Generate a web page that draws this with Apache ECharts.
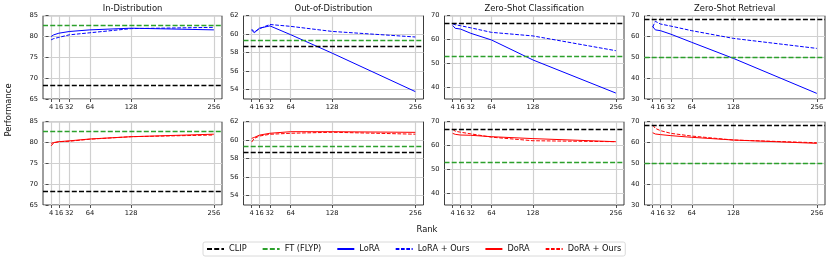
<!DOCTYPE html>
<html><head><meta charset="utf-8">
<script src="https://cdn.jsdelivr.net/npm/echarts@6/dist/echarts.min.js"></script>
<style>html,body{margin:0;padding:0;background:#fff}#c{width:830px;height:264px}</style>
</head><body><div id="c"></div>
<script>
// ---------- data ----------
const ranks = [4, 8, 16, 32, 64, 128, 256];
const xTicks = [4, 16, 32, 64, 128, 256];
const titles = ['In-Distribution', 'Out-of-Distribution', 'Zero-Shot Classification', 'Zero-Shot Retrieval'];
const clipScores = [68.3, 58.7, 66.8, 68.3];
const ftScores = [82.6, 59.4, 52.8, 49.9];
const yMin = [65, 53, 35, 30];
const yMax = [85, 62, 70, 70];
const yTicks = [[65, 70, 75, 80, 85], [54, 56, 58, 60, 62], [40, 50, 60, 70], [30, 40, 50, 60, 70]];

const loraID      = [80.0, 80.4, 80.8, 81.2, 81.6, 82.0, 81.6];
const loraOOD     = [60.45, 60.15, 60.65, 60.9, 59.95, 57.95, 53.8];
const loraZSC     = [65.9, 64.7, 64.4, 62.6, 59.8, 51.4, 37.5];
const loraZSR     = [64.8, 63.2, 62.8, 61.1, 57.2, 49.5, 32.7];
const loraOursID  = [79.2, 79.5, 79.8, 80.4, 80.9, 81.9, 82.2];
const loraOursOOD = [60.55, 60.25, 60.6, 61.05, 60.85, 60.3, 59.7];
const loraOursZSC = [66.6, 66.2, 65.8, 64.9, 63.0, 61.5, 55.3];
const loraOursZSR = [64.5, 67.3, 66.0, 65.0, 62.8, 59.1, 54.3];

const doraID      = [79.8, 80.0, 80.2, 80.4, 80.85, 81.4, 82.0];
const doraOOD     = [60.2, 60.3, 60.55, 60.75, 60.92, 60.92, 60.85];
const doraZSC     = [65.1, 64.7, 64.4, 64.3, 63.7, 62.9, 61.6];
const doraZSR     = [64.7, 64.1, 63.8, 63.3, 62.5, 61.2, 59.6];
const doraOursID  = [79.2, 79.9, 80.2, 80.3, 80.8, 81.4, 81.8];
const doraOursOOD = [59.8, 60.2, 60.45, 60.64, 60.75, 60.86, 60.65];
const doraOursZSC = [66.8, 66.0, 65.6, 64.9, 63.5, 62.0, 61.6];
const doraOursZSR = [68.4, 66.8, 65.7, 64.4, 63.1, 61.2, 59.9];

// ---------- layout / style ----------
const FONT = 'DejaVu Sans';
const TXT = '#111';
const colLeft = [43, 243.5, 444.5, 644.5];
const colWidth = [179, 180, 179.5, 180.5];
const rowTop = [15.7, 121.7];
const rowHeight = 83.3;

const rowsDef = [
  {solid: 'LoRA', dashed: 'LoRA + Ours', color: '#0000ff',
   s: [loraID, loraOOD, loraZSC, loraZSR], d: [loraOursID, loraOursOOD, loraOursZSC, loraOursZSR]},
  {solid: 'DoRA', dashed: 'DoRA + Ours', color: '#ff0000',
   s: [doraID, doraOOD, doraZSC, doraZSR], d: [doraOursID, doraOursOOD, doraOursZSC, doraOursZSR]}
];

const grids = [], xAxes = [], yAxes = [], series = [], graphics = [];
const toPts = arr => ranks.map((x, i) => [x, arr[i]]);

for (let r = 0; r < 2; r++) {
  for (let c = 0; c < 4; c++) {
    const idx = r * 4 + c;
    grids.push({left: colLeft[c], top: rowTop[r], width: colWidth[c], height: rowHeight,
      show: true, borderColor: '#262626', borderWidth: 0.9, backgroundColor: 'transparent',
      containLabel: false, outerBoundsMode: 'none'});
    xAxes.push({type: 'value', gridIndex: idx, min: -8.6, max: 268.6,
      axisLine: {show: false},
      axisTick: {show: true, customValues: xTicks, length: 3, lineStyle: {color: '#262626', width: 0.8}},
      axisLabel: {customValues: xTicks, fontSize: 6.7, color: TXT, fontFamily: FONT, margin: 5},
      splitLine: {show: true, lineStyle: {color: '#d0d0d0', width: 1.2}}});
    yAxes.push({type: 'value', gridIndex: idx, min: yMin[c], max: yMax[c],
      axisLine: {show: false},
      axisTick: {show: true, customValues: yTicks[c], length: 3, lineStyle: {color: '#262626', width: 0.8}},
      axisLabel: {customValues: yTicks[c], fontSize: 6.7, color: TXT, fontFamily: FONT, margin: 5},
      splitLine: {show: true, lineStyle: {color: '#d0d0d0', width: 1.2}}});

    const refLine = (name, color, val) => ({
      type: 'line', name, xAxisIndex: idx, yAxisIndex: idx, data: [], color,
      symbol: 'none', lineStyle: {color, type: [5, 2.2], width: 1.4}, animation: false, z: 2,
      markLine: {silent: true, symbol: ['none', 'none'], label: {show: false}, animation: false,
        lineStyle: {color, type: [5, 2.2], width: 1.4}, emphasis: {disabled: true},
        data: [{yAxis: val}]}
    });
    series.push(refLine('CLIP', '#000000', clipScores[c]));
    series.push(refLine('FT (FLYP)', '#2ca02c', ftScores[c]));

    const rd = rowsDef[r];
    series.push({type: 'line', name: rd.solid, xAxisIndex: idx, yAxisIndex: idx,
      data: toPts(rd.s[c]), color: rd.color, symbol: 'none', animation: false, z: 3,
      lineStyle: {color: rd.color, width: 1}});
    series.push({type: 'line', name: rd.dashed, xAxisIndex: idx, yAxisIndex: idx,
      data: toPts(rd.d[c]), color: rd.color, symbol: 'none', animation: false, z: 3,
      lineStyle: {color: rd.color, width: 1, type: [3.7, 1.6]}});
  }
}

for (let c = 0; c < 4; c++) {
  graphics.push({type: 'text', x: colLeft[c] + colWidth[c] / 2, y: 8.5,
    style: {text: titles[c], fontSize: 8.4, fontFamily: FONT, fill: TXT, align: 'center', verticalAlign: 'middle'}});
}
graphics.push({type: 'text', x: 9, y: 110, rotation: Math.PI / 2,
  style: {text: 'Performance', fontSize: 8.4, fontFamily: FONT, fill: TXT, align: 'center', verticalAlign: 'middle'}});
graphics.push({type: 'text', x: 427, y: 229.5,
  style: {text: 'Rank', fontSize: 8.4, fontFamily: FONT, fill: TXT, align: 'center', verticalAlign: 'middle'}});

const chart = echarts.init(document.getElementById('c'), null, {renderer: 'canvas'});
chart.setOption({
  animation: false,
  backgroundColor: '#fff',
  grid: grids, xAxis: xAxes, yAxis: yAxes, series,
  graphic: graphics,
  legend: {left: 203, top: 242, orient: 'horizontal', itemWidth: 17, itemHeight: 8, itemGap: 15,
    padding: [3, 4, 3, 3], borderColor: '#d0d0d0', borderWidth: 0.8, borderRadius: 2,
    itemStyle: {opacity: 0, borderWidth: 0},
    textStyle: {fontSize: 8.2, color: TXT, fontFamily: FONT},
    data: ['CLIP', 'FT (FLYP)', 'LoRA', 'LoRA + Ours', 'DoRA', 'DoRA + Ours']}
});
</script></body></html>
